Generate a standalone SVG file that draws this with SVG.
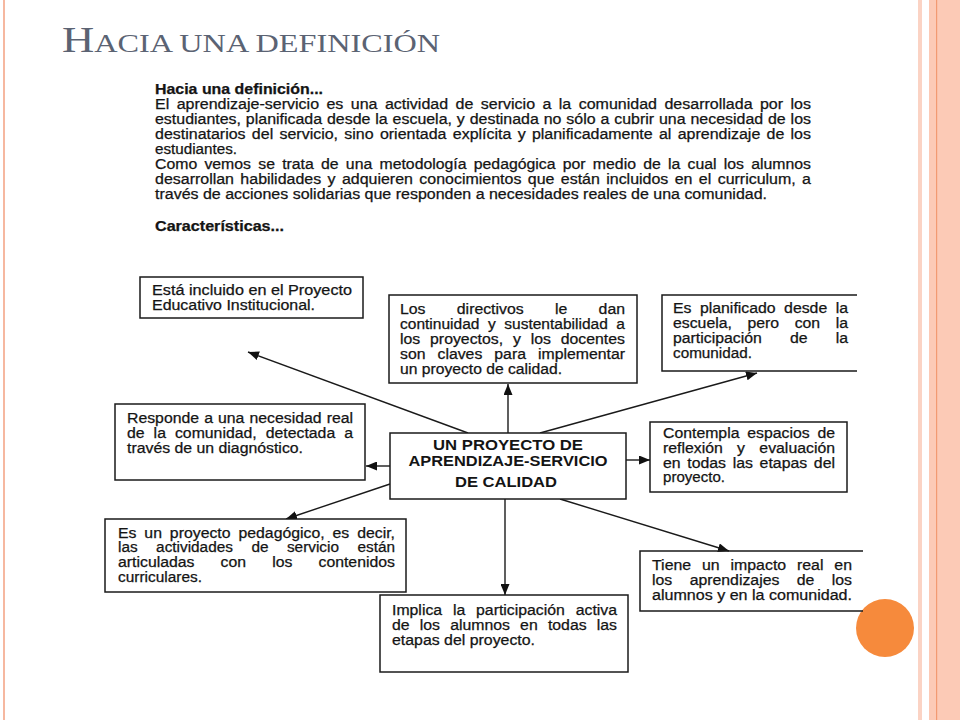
<svg xmlns="http://www.w3.org/2000/svg" width="960" height="720" viewBox="0 0 960 720">
<style>
.t{font-family:"Liberation Sans",Arial,sans-serif;font-size:14px;fill:#141414;stroke:#141414;stroke-width:0.25}
.b{font-weight:bold}
.c{font-family:"Liberation Sans",Arial,sans-serif;font-size:14px;font-weight:bold;fill:#141414}
.box{fill:#fff;stroke:#1a1a1a;stroke-width:1.5}
.open{fill:none;stroke:#1a1a1a;stroke-width:1.5}
.ln{stroke:#1a1a1a;stroke-width:1.4;fill:none;marker-end:url(#ah)}
.ttl{font-family:"Liberation Serif","Times New Roman",serif;fill:#5b6373}
</style>
<defs>
<marker id="ah" markerUnits="userSpaceOnUse" markerWidth="11" markerHeight="9" refX="11" refY="4.5" orient="auto">
<path d="M0,0 L11,4.5 L0,9 z" fill="#111"/>
</marker>
</defs>
<rect width="960" height="720" fill="#fff"/>
<g id="frame">
<rect x="3" y="0" width="2" height="720" fill="#f6b8a0"/>
<rect x="918" y="0" width="4" height="720" fill="#fbd3c4"/>
<rect x="929" y="0" width="31" height="720" fill="#fccab6"/>
<rect x="936" y="0" width="1.2" height="720" fill="#f29a72"/>
<circle cx="885" cy="628" r="29" fill="#f68a3c"/>
</g>
<text class="ttl" x="62" y="52" textLength="378" lengthAdjust="spacingAndGlyphs"><tspan font-size="36">H</tspan><tspan font-size="26">ACIA UNA DEFINICIÓN</tspan></text>
<g id="intro">
<text class="t b" x="155" y="94" textLength="168" lengthAdjust="spacingAndGlyphs">Hacia una definición...</text>
<text class="t" x="155" y="109" word-spacing="2.6" textLength="656" lengthAdjust="spacingAndGlyphs">El aprendizaje-servicio es una actividad de servicio a la comunidad desarrollada por los</text>
<text class="t" x="155" y="124" word-spacing="0.4" textLength="656" lengthAdjust="spacingAndGlyphs">estudiantes, planificada desde la escuela, y destinada no sólo a cubrir una necesidad de los</text>
<text class="t" x="155" y="139" word-spacing="1.6" textLength="656" lengthAdjust="spacingAndGlyphs">destinatarios del servicio, sino orientada explícita y planificadamente al aprendizaje de los</text>
<text class="t" x="155" y="154" textLength="82" lengthAdjust="spacingAndGlyphs">estudiantes.</text>
<text class="t" x="155" y="169" word-spacing="2.5" textLength="656" lengthAdjust="spacingAndGlyphs">Como vemos se trata de una metodología pedagógica por medio de la cual los alumnos</text>
<text class="t" x="155" y="184" word-spacing="1.7" textLength="656" lengthAdjust="spacingAndGlyphs">desarrollan habilidades y adquieren conocimientos que están incluidos en el curriculum, a</text>
<text class="t" x="155" y="199" textLength="612" lengthAdjust="spacingAndGlyphs">través de acciones solidarias que responden a necesidades reales de una comunidad.</text>
<text class="t b" x="155" y="231" textLength="129" lengthAdjust="spacingAndGlyphs">Características...</text>
</g>
<g id="connectors">
<path class="ln" d="M468,433 L248,352"/>
<path class="ln" d="M508,433 L508,384"/>
<path class="ln" d="M540,433 L757,373"/>
<path class="ln" d="M390,466 L366,466"/>
<path class="ln" d="M626,460 L650,460"/>
<path class="ln" d="M390,484 L286,519"/>
<path class="ln" d="M505,499 L505,595"/>
<path class="ln" d="M560,499 L729,551"/>
</g>
<g id="n1">
<rect class="box" x="140" y="277" width="223" height="41"/>
<text class="t" x="152" y="295.2" textLength="200" lengthAdjust="spacingAndGlyphs">Está incluido en el Proyecto</text>
<text class="t" x="152" y="310.2" textLength="163" lengthAdjust="spacingAndGlyphs">Educativo Institucional.</text>
</g>
<g id="n2">
<rect class="box" x="389" y="295" width="248" height="88"/>
<text class="t" x="400" y="314" word-spacing="23.8" textLength="225" lengthAdjust="spacingAndGlyphs">Los directivos le dan</text>
<text class="t" x="400" y="329" word-spacing="3.8" textLength="225" lengthAdjust="spacingAndGlyphs">continuidad y sustentabilidad a</text>
<text class="t" x="400" y="344" word-spacing="4.8" textLength="225" lengthAdjust="spacingAndGlyphs">los proyectos, y los docentes</text>
<text class="t" x="400" y="359" word-spacing="6.7" textLength="225" lengthAdjust="spacingAndGlyphs">son claves para implementar</text>
<text class="t" x="400" y="374" textLength="162" lengthAdjust="spacingAndGlyphs">un proyecto de calidad.</text>
</g>
<g id="n3">
<path class="open" d="M857,295 H662 V371 H857"/>
<text class="t" x="673" y="313" word-spacing="3.6" textLength="175" lengthAdjust="spacingAndGlyphs">Es planificado desde la</text>
<text class="t" x="673" y="328" word-spacing="9.9" textLength="175" lengthAdjust="spacingAndGlyphs">escuela, pero con la</text>
<text class="t" x="673" y="343" word-spacing="21" textLength="175" lengthAdjust="spacingAndGlyphs">participación de la</text>
<text class="t" x="673" y="358" textLength="79" lengthAdjust="spacingAndGlyphs">comunidad.</text>
</g>
<g id="n4">
<rect class="box" x="115" y="404" width="250" height="76"/>
<text class="t" x="127" y="423" word-spacing="0.6" textLength="226" lengthAdjust="spacingAndGlyphs">Responde a una necesidad real</text>
<text class="t" x="127" y="437.8" word-spacing="4.1" textLength="226" lengthAdjust="spacingAndGlyphs">de la comunidad, detectada a</text>
<text class="t" x="127" y="452.6" textLength="176" lengthAdjust="spacingAndGlyphs">través de un diagnóstico.</text>
</g>
<g id="center">
<rect class="box" x="390" y="433" width="236" height="66"/>
<text class="c" x="508" y="450" text-anchor="middle" textLength="150" lengthAdjust="spacingAndGlyphs">UN PROYECTO DE</text>
<text class="c" x="508" y="466" text-anchor="middle" textLength="199" lengthAdjust="spacingAndGlyphs">APRENDIZAJE-SERVICIO</text>
<text class="c" x="506" y="487" text-anchor="middle" textLength="102" lengthAdjust="spacingAndGlyphs">DE CALIDAD</text>
</g>
<g id="n6">
<rect class="box" x="650" y="422" width="197" height="70"/>
<text class="t" x="663" y="438" word-spacing="3" textLength="172" lengthAdjust="spacingAndGlyphs">Contempla espacios de</text>
<text class="t" x="663" y="452.8" word-spacing="8.8" textLength="172" lengthAdjust="spacingAndGlyphs">reflexión y evaluación</text>
<text class="t" x="663" y="467.6" word-spacing="2" textLength="172" lengthAdjust="spacingAndGlyphs">en todas las etapas del</text>
<text class="t" x="663" y="482.4" textLength="62" lengthAdjust="spacingAndGlyphs">proyecto.</text>
</g>
<g id="n7">
<rect class="box" x="105" y="519" width="301" height="73"/>
<text class="t" x="118" y="537.5" word-spacing="3.1" textLength="277" lengthAdjust="spacingAndGlyphs">Es un proyecto pedagógico, es decir,</text>
<text class="t" x="118" y="552.3" word-spacing="13" textLength="277" lengthAdjust="spacingAndGlyphs">las actividades de servicio están</text>
<text class="t" x="118" y="567.1" word-spacing="19.2" textLength="277" lengthAdjust="spacingAndGlyphs">articuladas con los contenidos</text>
<text class="t" x="118" y="581.9" textLength="84" lengthAdjust="spacingAndGlyphs">curriculares.</text>
</g>
<g id="n8">
<rect class="box" x="380" y="595" width="248" height="77"/>
<text class="t" x="392" y="615" word-spacing="5.7" textLength="225" lengthAdjust="spacingAndGlyphs">Implica la participación activa</text>
<text class="t" x="392" y="629.8" word-spacing="5.1" textLength="225" lengthAdjust="spacingAndGlyphs">de los alumnos en todas las</text>
<text class="t" x="392" y="644.6" textLength="143" lengthAdjust="spacingAndGlyphs">etapas del proyecto.</text>
</g>
<g id="n9">
<path class="open" d="M863,551 H640 V611 H863"/>
<text class="t" x="652" y="570" word-spacing="5.7" textLength="200" lengthAdjust="spacingAndGlyphs">Tiene un impacto real en</text>
<text class="t" x="652" y="584.8" word-spacing="11.5" textLength="200" lengthAdjust="spacingAndGlyphs">los aprendizajes de los</text>
<text class="t" x="652" y="599.6" textLength="200" lengthAdjust="spacingAndGlyphs">alumnos y en la comunidad.</text>
</g>
</svg>
